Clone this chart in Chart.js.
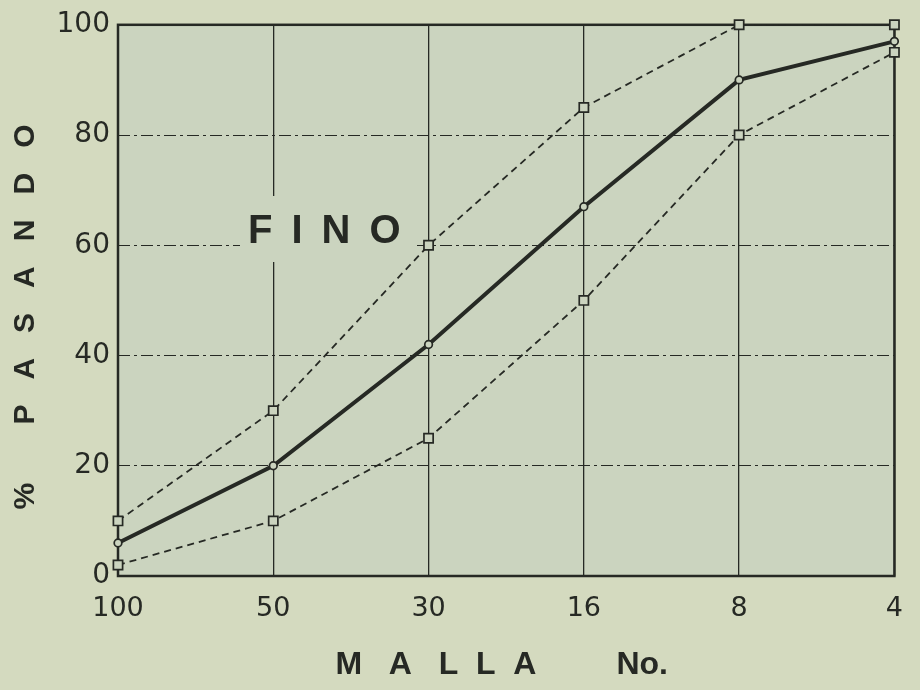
<!DOCTYPE html>
<html>
<head>
<meta charset="utf-8">
<script src="https://cdn.jsdelivr.net/npm/chart.js@4"></script>
<style>
  html, body { margin: 0; padding: 0; background: #d4dabf; }
  #wrap { width: 920px; height: 690px; }
</style>
</head>
<body>
<div id="wrap"><canvas id="chart" width="920" height="690"></canvas></div>
<script>
// Mallas (tamiz No.) y % pasando
const mallas = ['100', '50', '30', '16', '8', '4'];
const limiteSuperior = [10, 30, 60, 85, 100, 100];
const curvaFino = [6, 20, 42, 67, 90, 97];
const limiteInferior = [2, 10, 25, 50, 80, 95];
const yTicks = [0, 20, 40, 60, 80, 100];

const INK = '#262924';
const PAPER = '#cbd4bf';

// fondo, marco y rotulo FINO
const paperPlugin = {
  id: 'paper',
  beforeDraw(chart) {
    const { ctx, chartArea: a } = chart;
    ctx.save();
    ctx.fillStyle = '#d4dabf';
    ctx.fillRect(0, 0, chart.width, chart.height);
    ctx.fillStyle = PAPER;
    ctx.fillRect(a.left, a.top, a.right - a.left, a.bottom - a.top);
    ctx.restore();
  },
  beforeDatasetsDraw(chart) {
    const { ctx, chartArea: a } = chart;
    ctx.save();
    // hueco de la cuadricula detras del rotulo
    ctx.fillStyle = PAPER;
    ctx.fillRect(240, 196, 175, 66);
    ctx.fillStyle = INK;
    ctx.font = 'bold 40px "Liberation Sans", Arial, sans-serif';
    ctx.textBaseline = 'alphabetic';
    ctx.letterSpacing = '19px';
    ctx.fillText('FINO', 248, 243);
    ctx.letterSpacing = '0px';
    // marco
    ctx.strokeStyle = INK;
    ctx.lineWidth = 2.5;
    ctx.strokeRect(a.left, a.top, a.right - a.left, a.bottom - a.top);
    ctx.restore();
  }
};

const ctx = document.getElementById('chart').getContext('2d');
new Chart(ctx, {
  type: 'line',
  data: {
    labels: mallas,
    datasets: [
      {
        label: 'Limite superior',
        data: limiteSuperior,
        borderColor: INK,
        borderWidth: 1.8,
        borderDash: [7, 5],
        pointStyle: 'rect',
        pointRadius: 6.5,
        pointBorderWidth: 1.7,
        pointBorderColor: INK,
        pointBackgroundColor: PAPER,
        tension: 0,
        clip: false
      },
      {
        label: 'Fino',
        data: curvaFino,
        borderColor: INK,
        borderWidth: 4,
        pointStyle: 'circle',
        pointRadius: 3.8,
        pointBorderWidth: 1.7,
        pointBorderColor: INK,
        pointBackgroundColor: PAPER,
        tension: 0,
        clip: false
      },
      {
        label: 'Limite inferior',
        data: limiteInferior,
        borderColor: INK,
        borderWidth: 1.8,
        borderDash: [7, 5],
        pointStyle: 'rect',
        pointRadius: 6.5,
        pointBorderWidth: 1.7,
        pointBorderColor: INK,
        pointBackgroundColor: PAPER,
        tension: 0,
        clip: false
      }
    ]
  },
  options: {
    responsive: false,
    animation: false,
    devicePixelRatio: 1,
    layout: { padding: { top: 20, right: 22, left: 0, bottom: 0 } },
    plugins: {
      legend: { display: false },
      tooltip: { enabled: false }
    },
    scales: {
      x: {
        afterFit: s => { s.height = 114; },
        grid: { color: INK, lineWidth: 1.3, drawTicks: false },
        border: { display: false },
        ticks: {
          color: INK,
          padding: 17,
          maxRotation: 0,
          font: { family: '"DejaVu Sans", sans-serif', size: 27 }
        },
        title: {
          display: true,
          text: 'M   A   L  L  A         No. ',
          color: INK,
          padding: { top: 0, bottom: 6 },
          font: { family: '"Liberation Sans", Arial, sans-serif', size: 32, weight: 'bold' }
        }
      },
      y: {
        min: 0,
        max: 100,
        afterFit: s => { s.width = 118; },
        afterBuildTicks: s => { s.ticks = yTicks.map(v => ({ value: v })); },
        grid: {
          color: ctx => (ctx.tick && (ctx.tick.value === 0 || ctx.tick.value === 100)) ? 'rgba(0,0,0,0)' : INK,
          lineWidth: 1,
          drawTicks: false
        },
        border: { display: false, dash: [12, 4, 3, 4] },
        ticks: {
          color: INK,
          padding: 8,
          font: { family: '"DejaVu Sans", sans-serif', size: 28 }
        },
        title: {
          display: true,
          text: '%       P   A   S   A   N   D   O    ',
          color: INK,
          padding: { top: 8, bottom: 0 },
          font: { family: '"Liberation Sans", Arial, sans-serif', size: 30, weight: 'bold' }
        }
      }
    }
  },
  plugins: [paperPlugin]
});
</script>
</body>
</html>
